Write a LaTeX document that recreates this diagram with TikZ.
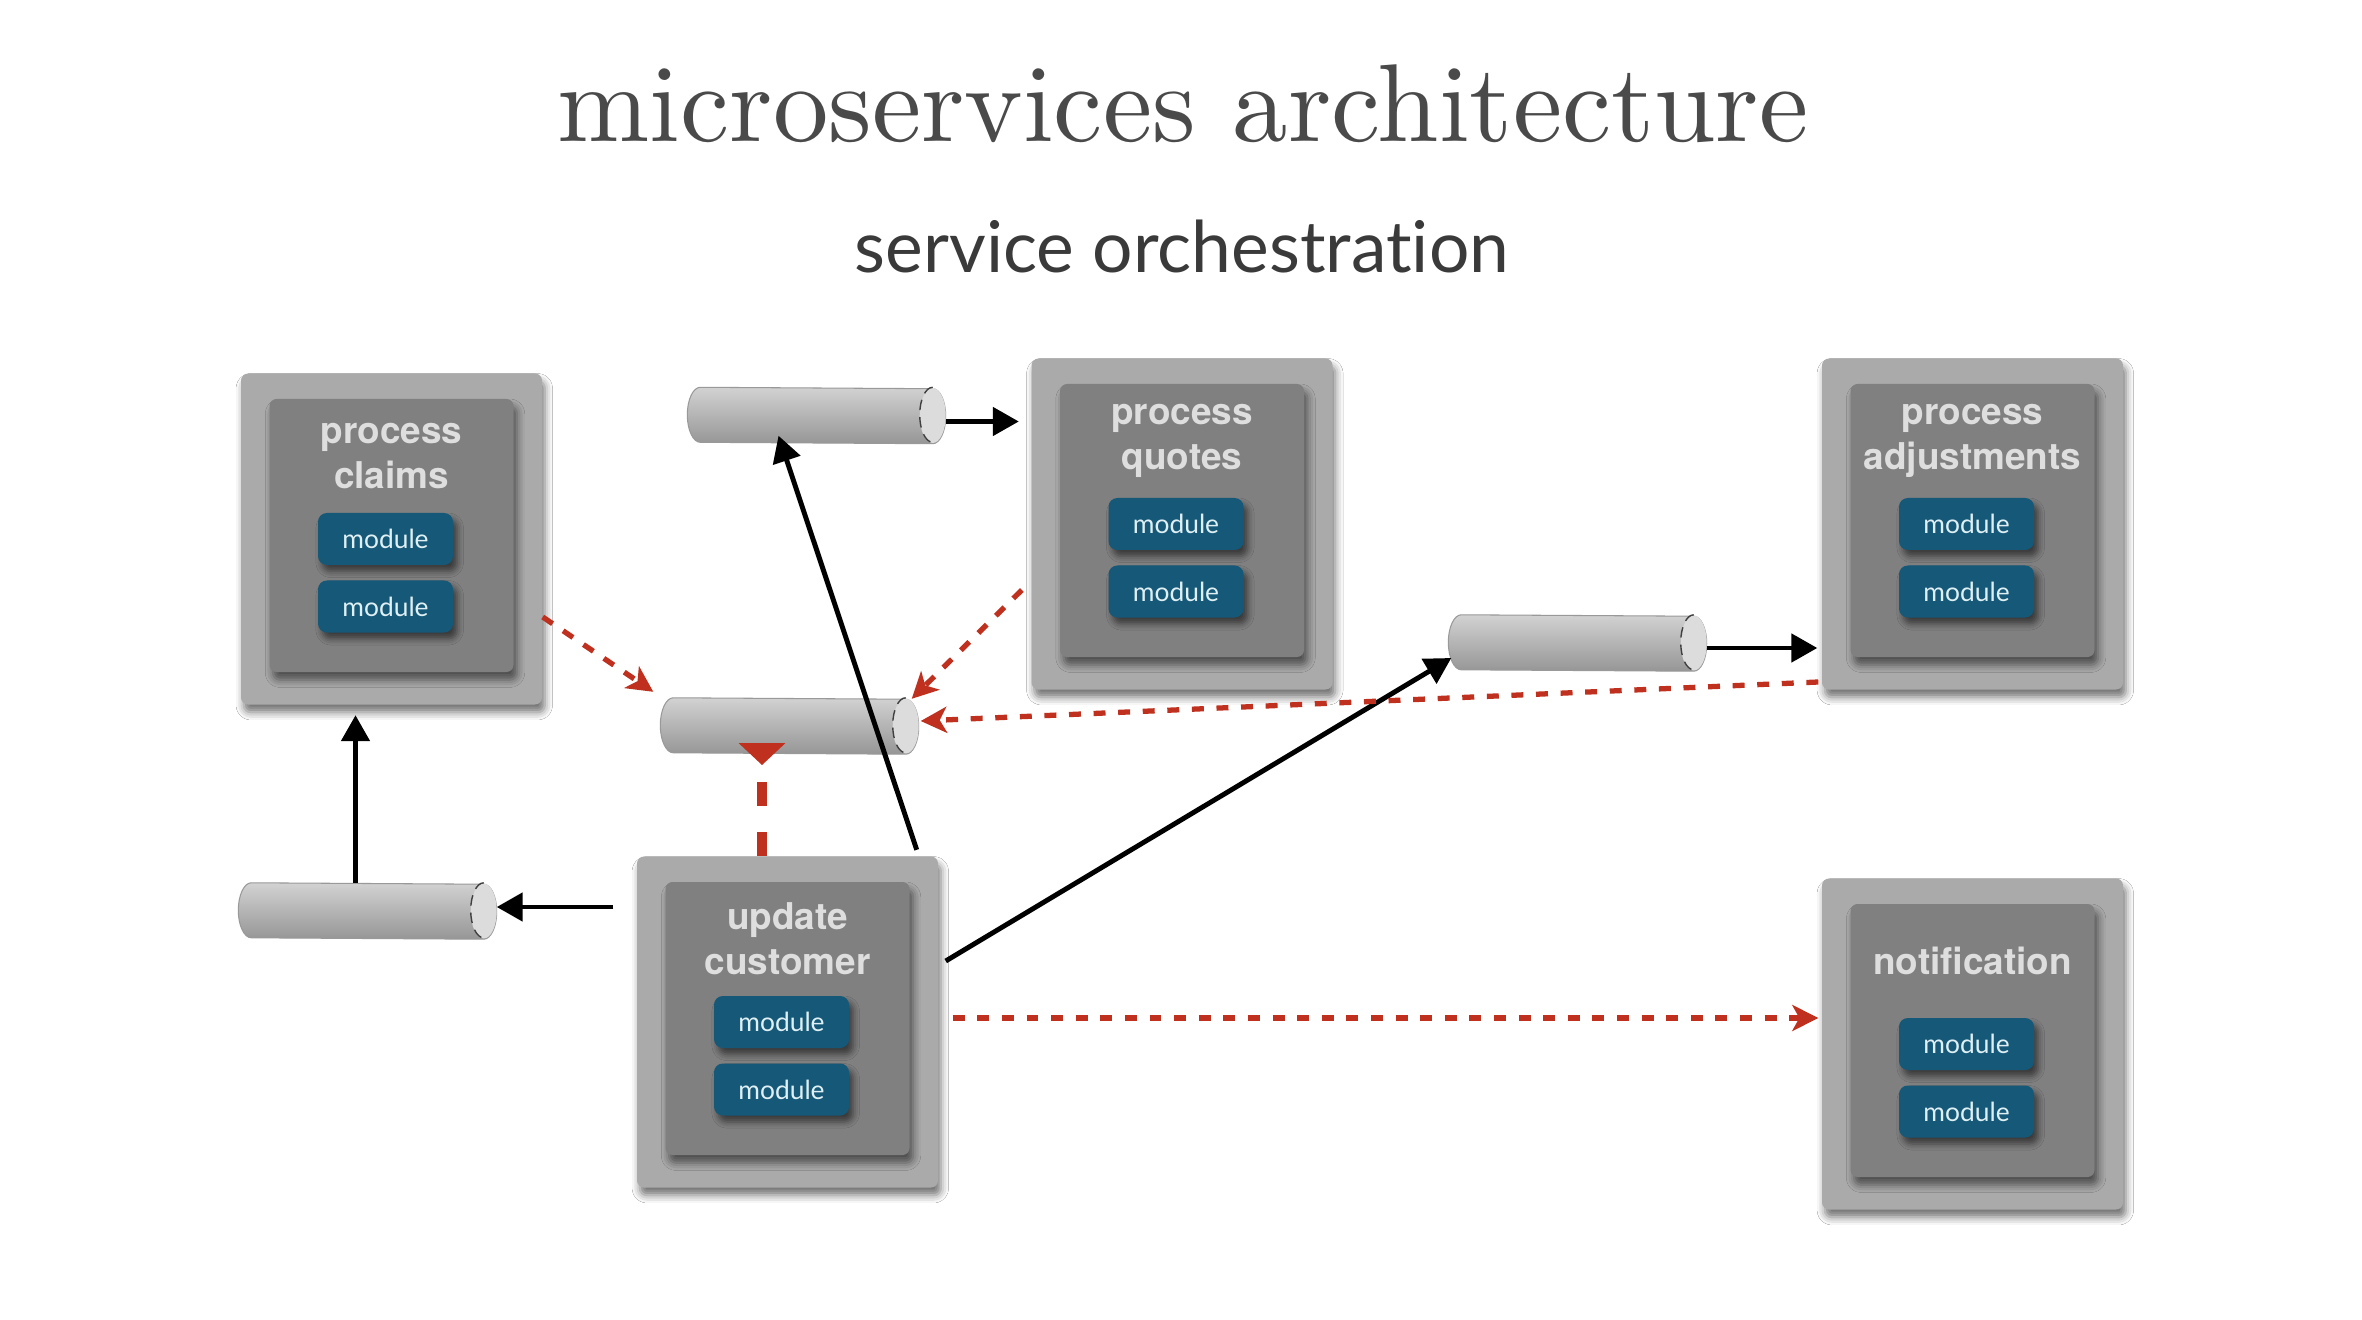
\documentclass[tikz,border=0pt]{standalone}
\usepackage{fontspec}
\newfontfamily\titlefont{lmroman10-regular.otf}
\newfontfamily\helv{TeX Gyre Heros}
\newfontfamily\lato{Lato}[Ligatures=NoCommon]
\usetikzlibrary{arrows.meta,shadows.blur}

\definecolor{titlegray}{RGB}{74,74,74}
\definecolor{subgray}{RGB}{58,58,58}
\definecolor{boxouter}{RGB}{170,170,170}
\definecolor{boxinner}{RGB}{128,128,128}
\definecolor{lblgray}{RGB}{222,222,222}
\definecolor{modblue}{RGB}{22,88,120}
\definecolor{modtext}{RGB}{222,240,244}
\definecolor{ordred}{RGB}{192,48,30}
\definecolor{qtop}{RGB}{210,210,210}
\definecolor{qmid}{RGB}{180,180,180}
\definecolor{qbot}{RGB}{150,150,150}
\definecolor{qend}{RGB}{220,220,220}

% service box with two modules
\newcommand{\service}[3]{%
	\node[outerbox] (#1) at (#2) {};
	\node[innerbox] (#1-in) at ([yshift=0.35mm]#1) {};
	\node[svclabel] (#1-lbl) at ([yshift=8.3mm]#1) {#3};
	\node[modbox] (#1-m1) at ([xshift=-0.6mm]#1) {module};
	\node[modbox] (#1-m2) at ([xshift=-0.6mm,yshift=-6.75mm]#1) {module};
}
% queue drawn as a lying cylinder
\newcommand{\queue}[2]{%
	\node[qnode] (#1) at (#2) {};
	\shade[top color=qtop, middle color=qmid, bottom color=qbot, draw=gray!80, line width=0.3pt]
		([xshift=1.3mm]#1.north west) arc[start angle=90, end angle=270, x radius=1.3mm, y radius=2.75mm]
		-- ([xshift=-1.3mm]#1.south east) arc[start angle=-90, end angle=90, x radius=1.3mm, y radius=2.75mm] -- cycle;
	\fill[qend] ([xshift=-1.3mm]#1.east) ellipse[x radius=1.3mm, y radius=2.75mm];
	\draw[gray!50!black, densely dashed, line width=0.4pt] ([xshift=-1.3mm]#1.north east)
		arc[start angle=90, end angle=270, x radius=1.3mm, y radius=2.75mm];
}

\begin{document}
\begin{tikzpicture}[
	outerbox/.style={minimum width=3.01cm, minimum height=3.31cm, inner sep=0pt, fill=boxouter, rounded corners=2pt,
		blur shadow={shadow xshift=0.8pt, shadow yshift=-2.2pt, shadow blur radius=2.2pt, shadow opacity=55}},
	innerbox/.style={minimum width=2.44cm, minimum height=2.73cm, inner sep=0pt, fill=boxinner, rounded corners=2pt,
		blur shadow={shadow xshift=1pt, shadow yshift=-2.2pt, shadow blur radius=2.2pt, shadow opacity=55}},
	svclabel/.style={font=\helv\bfseries\fontsize{10.5}{12.8}\selectfont, text=lblgray, align=center},
	modbox/.style={minimum width=1.35cm, minimum height=0.52cm, inner sep=0pt, fill=modblue, rounded corners=2.5pt,
		blur shadow={shadow xshift=1.2pt, shadow yshift=-1.8pt, shadow blur radius=1.8pt, shadow opacity=55},
		font=\lato\fontsize{7.5}{9}\selectfont, text=modtext},
	qnode/.style={minimum width=2.57cm, minimum height=0.55cm, inner sep=0pt},
	callarr/.style={line width=1.4pt, -{Triangle[length=2.6mm,width=2.8mm]}},
	evtarr/.style={ordred, line width=1.5pt, dash pattern=on 3.4pt off 3.6pt,
		-{Stealth[length=2.6mm,width=2.6mm,inset=0.7mm]}}]
	\useasboundingbox (0,0) rectangle (23.62,-13.2);
	\fill[white] (0,0) rectangle (23.62,-13.2);

	\node[font=\titlefont\fontsize{31.5}{37}\selectfont, text=titlegray, anchor=base] (title) at (11.83,-1.42) {microservices architecture};
	\node[font=\lato\fontsize{20.3}{24}\selectfont, text=subgray, anchor=base] (subtitle) at (11.82,-2.73) {service orchestration};

	\service{claims}{3.915,-5.39}{process\\claims}
	\service{quotes}{11.82,-5.24}{process\\quotes}
	\service{adjust}{19.725,-5.24}{process\\adjustments}
	\service{notif}{19.725,-10.44}{notification}
	\service{update}{7.875,-10.22}{update\\customer}

	\queue{q1}{8.165,-4.155}
	\queue{q2}{7.895,-7.26}
	\queue{q3}{3.675,-9.11}
	\queue{q4}{15.775,-6.43}

	\draw[callarr] ([xshift=-1.2mm]q3.north) -- ([xshift=-1.2mm,yshift=-1mm]q3.north |- claims.south);
	\draw[callarr] ([xshift=-2.3mm,yshift=0.4mm]q3.east -| update.west) -- ([yshift=0.4mm]q3.east);
	\draw[callarr] ([xshift=-2.2mm,yshift=0.6mm]update.north east) -- ([xshift=-3.8mm,yshift=0.8mm]q1.south);
	\draw[callarr] ([yshift=-0.6mm]q1.east) -- ([xshift=-1.2mm,yshift=-0.6mm]q1.east -| quotes.west);
	\draw[callarr] ([xshift=0.7mm,yshift=6.1mm]update.east) -- ([xshift=0.3mm,yshift=-1.5mm]q4.west);
	\draw[callarr] ([yshift=-0.5mm]q4.east) -- ([xshift=-0.4mm,yshift=-0.5mm]q4.east -| adjust.west);

	\draw[evtarr] ([yshift=-7.8mm]claims.east) -- ([xshift=-0.7mm,yshift=0.6mm]q2.north west);
	\draw[evtarr] ([xshift=-0.9mm,yshift=-6.6mm]quotes.west) -- ([xshift=-0.7mm,yshift=-0.1mm]q2.north east);
	\draw[evtarr] ([xshift=-0.3mm,yshift=-15.8mm]adjust.west) -- ([xshift=0.2mm,yshift=0.5mm]q2.east);
	\draw[evtarr] ([xshift=1.4mm,yshift=0.4mm]update.east) -- ([xshift=-0.3mm,yshift=0.4mm]update.east -| notif.west);

	\coordinate (qtip) at ([xshift=-2.75mm,yshift=-3.9mm]q2.center);
	\draw[ordred, line width=2.8pt, dash pattern=on 6.8pt off 7.4pt] (qtip |- update.north) -- (qtip);
	\fill[ordred] (qtip) -- ++(-2.35mm,2.2mm) -- ++(4.7mm,0) -- cycle;
\end{tikzpicture}
\end{document}
